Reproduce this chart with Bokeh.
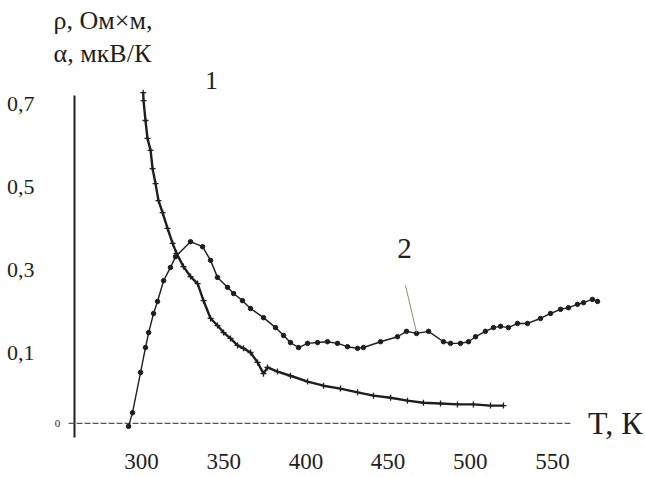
from bokeh.plotting import figure
from bokeh.models import Range1d, FixedTicker, CustomJSTickFormatter
from bokeh.core.properties import value
from bokeh.embed import file_html
from bokeh.resources import INLINE

# ---- data ----
# curve 1 (rho): crosses
T1 = [301.0, 301.2, 302.4, 303.6, 305.5, 306.7, 308.5, 310.3, 312.8, 315.8, 318.9,
      321.3, 325.5, 329.8, 334.1, 337.7, 342.0, 346.2, 349.9, 354.1, 358.4, 362.0,
      366.3, 370.6, 374.2, 376.6, 382.7, 390.6, 401.0, 410.7, 421.0, 431.4, 441.1,
      451.5, 461.8, 471.5, 481.9, 492.2, 501.9, 512.3, 520.2]
V1 = [0.726, 0.707, 0.659, 0.616, 0.587, 0.543, 0.507, 0.466, 0.437, 0.399, 0.363,
      0.339, 0.307, 0.283, 0.266, 0.225, 0.182, 0.165, 0.148, 0.134, 0.117, 0.110,
      0.100, 0.076, 0.049, 0.064, 0.054, 0.044, 0.030, 0.020, 0.013, 0.004, -0.004,
      -0.009, -0.016, -0.021, -0.023, -0.025, -0.025, -0.028, -0.028]

# curve 2 (alpha): dots
T2 = [292.1, 294.5, 299.4, 302.4, 304.3, 307.3, 309.7, 313.4, 317.6, 320.7, 329.8,
      337.1, 342.0, 346.2, 352.3, 356.0, 361.4, 366.3, 374.2, 381.5, 386.4, 390.6,
      395.5, 401.0, 407.1, 413.1, 419.2, 425.3, 431.4, 435.0, 445.4, 455.7, 461.2,
      467.3, 474.6, 483.7, 488.0, 494.0, 498.9, 503.2, 509.2, 514.1, 518.4, 523.2,
      528.7, 534.8, 542.7, 548.8, 554.9, 559.7, 565.2, 568.9, 574.3, 577.4]
V2 = [-0.078, -0.045, 0.052, 0.112, 0.148, 0.194, 0.223, 0.273, 0.305, 0.331, 0.367,
      0.355, 0.322, 0.281, 0.257, 0.242, 0.225, 0.206, 0.184, 0.160, 0.141, 0.124,
      0.112, 0.122, 0.124, 0.126, 0.122, 0.114, 0.110, 0.112, 0.126, 0.138, 0.151,
      0.146, 0.151, 0.126, 0.122, 0.122, 0.126, 0.138, 0.151, 0.160, 0.163, 0.160,
      0.170, 0.170, 0.182, 0.194, 0.204, 0.208, 0.216, 0.220, 0.228, 0.223]

X_TICKS = [300, 350, 400, 450, 500, 550]
X_TICK_LABELS = ["300", "350", "400", "450", "500", "550"]
Y_TICKS = [0.1, 0.3, 0.5, 0.7]
Y_BASE = -0.071          # level of the T axis line, labelled "0"

TITLE_1 = "ρ, Ом×м,"
TITLE_2 = "α, мкВ/К"
X_TITLE = "T, К"

FONT = "Liberation Serif"
INK = "#1e1e1e"

p = figure(width=645, height=477,
           x_range=Range1d(244.6, 606.6), y_range=Range1d(-0.2012, 0.9482),
           output_backend="svg", toolbar_location=None,
           min_border_left=50, min_border_right=0, min_border_top=0,
           min_border_bottom=0)
p.outline_line_color = None
p.xgrid.visible = False
p.ygrid.visible = False
p.background_fill_color = "white"


def label(x, y, txt, size, align="center"):
    p.text(x=x, y=y, text=txt, text_font=value(FONT), text_font_size=size,
           text_align=align, text_baseline="middle", text_color=INK)


# x axis: hidden line, labels drawn at the tick values below the T axis line
p.xaxis.visible = False
label(X_TICKS, [-0.1627] * len(X_TICKS), X_TICK_LABELS, "23px")

# y axis
p.yaxis.ticker = FixedTicker(ticks=Y_TICKS)
p.yaxis.formatter = CustomJSTickFormatter(code="return tick.toFixed(1).replace('.', ',');")
p.yaxis.axis_line_color = None
p.yaxis.major_tick_line_color = None
p.yaxis.minor_tick_line_color = None
p.yaxis.major_label_standoff = 10
p.yaxis.major_label_text_font = FONT
p.yaxis.major_label_text_font_size = "22px"
p.yaxis.major_label_text_color = INK

# drawn axis lines
p.segment(x0=[259.2], y0=[0.719], x1=[259.2], y1=[-0.1048], line_color=INK, line_width=2)
p.segment(x0=[255.6], y0=[Y_BASE], x1=[560.9], y1=[Y_BASE], line_color="#555555",
          line_width=1.2, line_dash="6 2")
label([248.9], [Y_BASE], ["0"], "11px")

# curves
p.line(T1, V1, line_color=INK, line_width=2.4)
p.scatter(T1, V1, marker="cross", size=6, line_color=INK, line_width=1.3)
p.line(T2, V2, line_color=INK, line_width=1.4)
p.scatter(T2, V2, marker="circle", size=4.5, fill_color=INK, line_color=INK)

# annotations
label([246.5], [0.9], [TITLE_1], "26px", "left")
label([246.5], [0.8205], [TITLE_2], "26px", "left")
label([342.6], [0.7566], ["1"], "25px")
label([460.0], [0.3506], ["2"], "29px")
p.segment(x0=[460.6], y0=[0.2614], x1=[467.3], y1=[0.1482], line_color="#8f8f6a", line_width=1)
label([604.8], [-0.0687], [X_TITLE], "32px", "right")

open("out.html", "w").write(file_html(p, INLINE))
